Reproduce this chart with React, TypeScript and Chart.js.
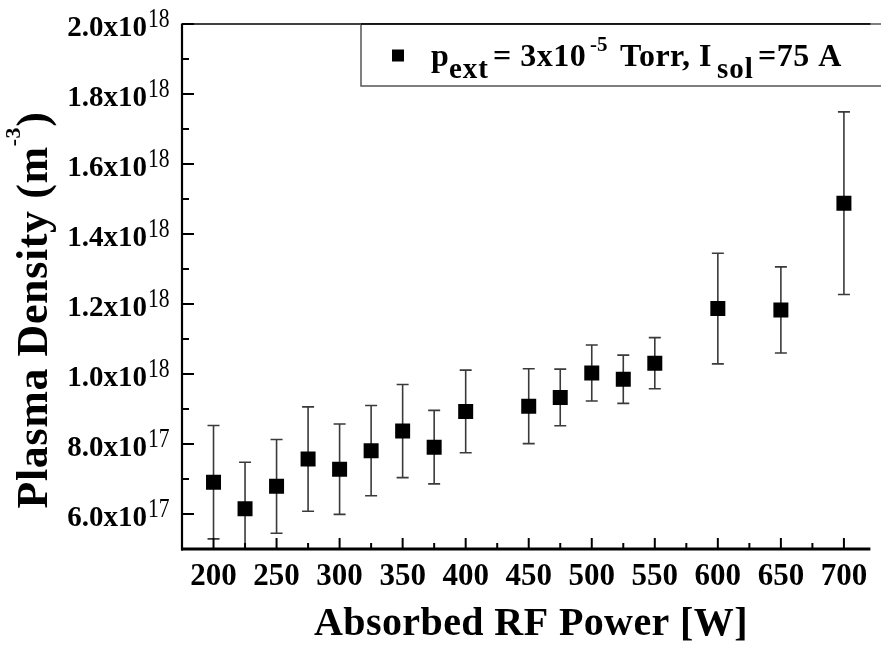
import React, { useEffect, useRef } from 'react';
import { Chart, registerables } from 'chart.js';

Chart.register(...registerables);

// ---- data (plasma density in m^-3) ----
const power = [200, 225, 250, 275, 300, 325, 350, 375, 400, 450, 475, 500, 525, 550, 600, 650, 700];
const density = [6.91e17, 6.15e17, 6.79e17, 7.57e17, 7.28e17, 7.81e17, 8.37e17, 7.91e17, 8.93e17, 9.08e17, 9.33e17, 10.03e17, 9.85e17, 10.31e17, 11.87e17, 11.83e17, 14.88e17];
const densityError = [1.62e17, 1.33e17, 1.34e17, 1.49e17, 1.29e17, 1.29e17, 1.33e17, 1.05e17, 1.18e17, 1.07e17, 0.81e17, 0.80e17, 0.69e17, 0.73e17, 1.58e17, 1.23e17, 2.61e17];

// ---- axes ----
const xMin = 175;
const xMax = 721;
const yMin = 5e17;
const yMax = 2e18;
const xTickValues = [200, 250, 300, 350, 400, 450, 500, 550, 600, 650, 700];
const xMinorTickValues = [225, 275, 325, 375, 425, 475, 525, 575, 625, 675];
const yTickValues = [6e17, 8e17, 1.0e18, 1.2e18, 1.4e18, 1.6e18, 1.8e18, 2.0e18];
const yTickMantissa = ['6.0', '8.0', '1.0', '1.2', '1.4', '1.6', '1.8', '2.0'];
const yTickExponent = ['17', '17', '18', '18', '18', '18', '18', '18'];
const yMinorTickValues = [7e17, 9e17, 1.1e18, 1.3e18, 1.5e18, 1.7e18, 1.9e18];

const xAxisTitle = 'Absorbed RF Power [W]';
const yAxisTitleMain = 'Plasma Density (m';
const yAxisTitleSup = '-3';
const yAxisTitleEnd = ')';

const legendParts = [
  { text: 'p', kind: 'main', x: 431 },
  { text: 'ext', kind: 'sub', x: 449 },
  { text: '= 3x10', kind: 'main', x: 493 },
  { text: '-5', kind: 'sup', x: 590 },
  { text: 'Torr, I', kind: 'main', x: 620 },
  { text: 'sol', kind: 'sub', x: 717 },
  { text: '=75 A', kind: 'main', x: 758 },
];

const SERIF = '"Liberation Serif", "Times New Roman", serif';

const decorPlugin = {
  id: 'decor',
  beforeDatasetsDraw(chart: any) {
    const { ctx, chartArea, scales } = chart;
    const xs = scales.x;
    const ys = scales.y;
    ctx.save();
    ctx.beginPath();
    ctx.rect(chartArea.left, chartArea.top, chartArea.right - chartArea.left, chartArea.bottom - chartArea.top);
    ctx.clip();
    ctx.strokeStyle = '#3a3a3a';
    ctx.lineWidth = 1.6;
    power.forEach((p, i) => {
      const px = xs.getPixelForValue(p);
      const hi = ys.getPixelForValue(density[i] + densityError[i]);
      const lo = ys.getPixelForValue(density[i] - densityError[i]);
      ctx.beginPath();
      ctx.moveTo(px, hi);
      ctx.lineTo(px, lo);
      ctx.moveTo(px - 6, hi);
      ctx.lineTo(px + 6, hi);
      ctx.moveTo(px - 6, lo);
      ctx.lineTo(px + 6, lo);
      ctx.stroke();
    });
    ctx.restore();
  },
  afterDraw(chart: any) {
    const { ctx, chartArea, scales } = chart;
    const xs = scales.x;
    const ys = scales.y;
    const { left, top, right, bottom } = chartArea;
    ctx.save();
    ctx.strokeStyle = '#000';
    ctx.fillStyle = '#000';

    // frame lines
    ctx.lineWidth = 1.5;
    ctx.beginPath();
    ctx.moveTo(left, top);
    ctx.lineTo(right, top);
    ctx.stroke();
    ctx.lineWidth = 2.2;
    ctx.beginPath();
    ctx.moveTo(left, top - 0.5);
    ctx.lineTo(left, bottom + 1.5);
    ctx.stroke();
    ctx.lineWidth = 3;
    ctx.beginPath();
    ctx.moveTo(left - 1, bottom);
    ctx.lineTo(right, bottom);
    ctx.stroke();

    // y ticks (inward)
    ctx.lineWidth = 2;
    yTickValues.forEach((v) => {
      const py = ys.getPixelForValue(v);
      ctx.beginPath();
      ctx.moveTo(left, py);
      ctx.lineTo(left + 12, py);
      ctx.stroke();
    });
    yMinorTickValues.forEach((v) => {
      const py = ys.getPixelForValue(v);
      ctx.beginPath();
      ctx.moveTo(left, py);
      ctx.lineTo(left + 7, py);
      ctx.stroke();
    });
    // x ticks (inward)
    xTickValues.forEach((v) => {
      const px = xs.getPixelForValue(v);
      ctx.beginPath();
      ctx.moveTo(px, bottom);
      ctx.lineTo(px, bottom - 11);
      ctx.stroke();
    });
    xMinorTickValues.forEach((v) => {
      const px = xs.getPixelForValue(v);
      ctx.beginPath();
      ctx.moveTo(px, bottom);
      ctx.lineTo(px, bottom - 6);
      ctx.stroke();
    });

    // y tick labels
    ctx.textBaseline = 'alphabetic';
    yTickValues.forEach((v, i) => {
      const py = ys.getPixelForValue(v);
      ctx.font = `bold 29px ${SERIF}`;
      ctx.textAlign = 'right';
      ctx.fillText(yTickMantissa[i] + 'x10', 147, py + 12);
      ctx.save();
      ctx.translate(148, py + 3);
      ctx.scale(0.8, 1);
      ctx.font = `27px ${SERIF}`;
      ctx.textAlign = 'left';
      ctx.fillText(yTickExponent[i], 0, 0);
      ctx.restore();
    });

    // x tick labels
    ctx.font = `bold 31px ${SERIF}`;
    ctx.textAlign = 'center';
    xTickValues.forEach((v) => {
      const px = xs.getPixelForValue(v);
      ctx.fillText(String(v), px, 585);
    });

    // x title
    ctx.font = `bold 40px ${SERIF}`;
    ctx.textAlign = 'center';
    try { (ctx as any).letterSpacing = '0.4px'; } catch (e) {}
    ctx.fillText(xAxisTitle, 531, 635);
    try { (ctx as any).letterSpacing = '0px'; } catch (e) {}

    // y title (rotated)
    ctx.save();
    ctx.translate(47, 310);
    ctx.rotate(-Math.PI / 2);
    ctx.textAlign = 'left';
    try { (ctx as any).letterSpacing = '0.6px'; } catch (e) {}
    ctx.font = `bold 44px ${SERIF}`;
    const wMain = ctx.measureText(yAxisTitleMain).width;
    const wEnd = ctx.measureText(yAxisTitleEnd).width;
    ctx.font = `bold 22px ${SERIF}`;
    const wSup = ctx.measureText(yAxisTitleSup).width;
    const total = wMain + wSup + wEnd;
    let cx = -total / 2;
    ctx.font = `bold 44px ${SERIF}`;
    ctx.fillText(yAxisTitleMain, cx, 0);
    cx += wMain;
    ctx.font = `bold 22px ${SERIF}`;
    ctx.fillText(yAxisTitleSup, cx, -27);
    cx += wSup;
    ctx.font = `bold 44px ${SERIF}`;
    ctx.fillText(yAxisTitleEnd, cx, 0);
    try { (ctx as any).letterSpacing = '0px'; } catch (e) {}
    ctx.restore();

    // legend box
    const lx = 361;
    const ly = top;
    const lh = 62;
    ctx.fillStyle = '#fff';
    ctx.fillRect(lx, ly, chart.width - lx + 5, lh);
    ctx.strokeStyle = '#555';
    ctx.lineWidth = 1.5;
    ctx.strokeRect(lx, ly, chart.width - lx + 5, lh);
    ctx.strokeStyle = '#000';
    ctx.lineWidth = 1.5;
    ctx.beginPath();
    ctx.moveTo(lx, top);
    ctx.lineTo(right, top);
    ctx.stroke();
    ctx.fillStyle = '#000';
    ctx.fillRect(392, 49.5, 12, 12);
    ctx.textAlign = 'left';
    legendParts.forEach((part) => {
      if (part.kind === 'main') {
        ctx.font = `bold 32px ${SERIF}`;
        try { (ctx as any).letterSpacing = '0.5px'; } catch (e) {}
        ctx.fillText(part.text, part.x, 66);
        try { (ctx as any).letterSpacing = '0px'; } catch (e) {}
      } else if (part.kind === 'sub') {
        ctx.font = `bold 29px ${SERIF}`;
        try { (ctx as any).letterSpacing = '1px'; } catch (e) {}
        ctx.fillText(part.text, part.x, 78);
        try { (ctx as any).letterSpacing = '0px'; } catch (e) {}
      } else {
        ctx.font = `bold 21px ${SERIF}`;
        ctx.fillText(part.text, part.x, 51);
      }
    });

    ctx.restore();
  },
};

export default function App() {
  const canvasRef = useRef<HTMLCanvasElement | null>(null);

  useEffect(() => {
    const canvas = canvasRef.current;
    if (!canvas) return;
    const chart = new Chart(canvas, {
      type: 'scatter',
      data: {
        datasets: [
          {
            label: 'pext= 3x10-5 Torr, Isol=75 A',
            data: power.map((p, i) => ({ x: p, y: density[i] })),
            pointStyle: 'rect',
            pointRadius: 10.6,
            pointHoverRadius: 10.6,
            backgroundColor: '#000',
            borderColor: '#000',
            borderWidth: 0,
            showLine: false,
          },
        ],
      },
      options: {
        responsive: false,
        animation: false,
        devicePixelRatio: 1,
        events: [],
        layout: { padding: { left: 182, top: 24, right: 0, bottom: 97 } },
        plugins: {
          legend: { display: false },
          tooltip: { enabled: false },
        },
        scales: {
          x: { type: 'linear', min: xMin, max: xMax, display: false },
          y: { type: 'linear', min: yMin, max: yMax, display: false },
        },
      },
      plugins: [decorPlugin],
    });
    return () => chart.destroy();
  }, []);

  return (
    <div style={{ position: 'absolute', left: 0, top: 0, width: 881, height: 646, background: '#fff' }}>
      <canvas ref={canvasRef} width={881} height={646} style={{ display: 'block', width: 881, height: 646 }} />
    </div>
  );
}
